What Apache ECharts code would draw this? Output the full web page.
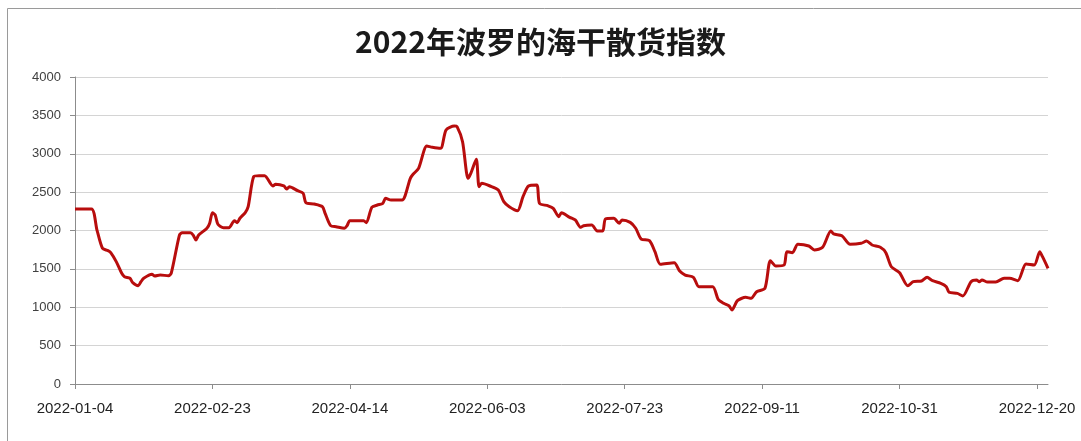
<!DOCTYPE html>
<html><head><meta charset="utf-8">
<script src="https://cdn.jsdelivr.net/npm/echarts@6/dist/echarts.min.js"></script>
<style>html,body{margin:0;padding:0;background:#fff}#c{width:1081px;height:441px}</style>
</head><body><div id="c"></div>
<script>
const titleText = '2022年波罗的海干散货指数';
const startDate = '2022-01-04';
const dayCount = 355;
const yTicks = [0, 500, 1000, 1500, 2000, 2500, 3000, 3500, 4000];
// day offsets from 2022-01-04
const dayOffsets = [
  0,6,8,10,12,13,15,17,18,20,21,23,24,25,28,29,31,34,35,38,
  39,42,43,44,45,48,49,50,51,52,54,56,58,59,60,62,63,65,67,69,
  72,73,76,77,78,81,83,84,87,90,91,93,95,98,99,100,105,106,108,110,
  112,113,115,119,122,123,125,128,130,133,135,138,139,141,143,144,146,147,148,151,
  154,156,158,161,163,165,168,169,172,174,176,177,180,182,184,185,188,190,192,193,
  196,198,199,202,204,206,209,211,213,218,220,222,225,227,232,234,236,238,239,241,
  244,246,248,251,253,255,258,259,261,263,267,269,272,275,276,279,282,286,288,290,
  293,295,297,300,303,305,308,310,312,315,317,318,321,323,326,328,329,330,332,335,
  338,340,343,346,349,351,352,354
];
const bdiValues = [
  2280,2280,2006,1768,1737,1711,1594,1442,1398,1377,1320,1281,1333,1377,1429,1407,1420,1411,1442,1941,
  1971,1971,1941,1876,1941,2029,2094,2232,2202,2081,2037,2037,2128,2102,2159,2237,2310,2701,2714,2714,
  2580,2602,2580,2541,2571,2519,2485,2362,2345,2310,2224,2063,2050,2029,2063,2128,2128,2102,2302,2332,
  2354,2419,2397,2397,2680,2732,2810,3101,3084,3071,3310,3362,3353,3157,2680,2745,2928,2571,2615,2580,
  2528,2376,2310,2258,2441,2580,2593,2354,2323,2289,2180,2232,2171,2137,2041,2063,2072,1994,1994,2150,
  2159,2094,2137,2106,2029,1889,1867,1724,1559,1580,1472,1420,1390,1268,1268,1103,1051,1016,964,1085,
  1129,1116,1203,1247,1607,1538,1551,1724,1711,1820,1798,1746,1781,1994,1955,1932,1820,1833,1863,1811,
  1781,1711,1528,1450,1281,1333,1342,1390,1346,1312,1268,1195,1181,1147,1333,1355,1333,1355,1329,1329,
  1377,1377,1346,1564,1551,1724,1659,1508
];

const categories = [];
const base = Date.UTC(2022, 0, 4);
for (let i = 0; i < dayCount; i++) {
  const d = new Date(base + i * 86400000);
  categories.push(d.getUTCFullYear() + '-' + String(d.getUTCMonth() + 1).padStart(2, '0') + '-' + String(d.getUTCDate()).padStart(2, '0'));
}
const seriesData = dayOffsets.map((d, i) => [d, bdiValues[i]]);

const chart = echarts.init(document.getElementById('c'), null, {renderer: 'canvas'});
chart.setOption({
  backgroundColor: '#ffffff',
  animation: false,
  title: {
    text: titleText, left: 'center', top: 22,
    textStyle: {fontFamily: 'Noto Sans CJK SC', fontSize: 30, fontWeight: 'bold', color: '#1a1a1a'}
  },
  graphic: [{
    type: 'rect', left: 5, top: 6, shape: {width: 1200, height: 600},
    style: {fill: 'none', stroke: '#9a9a9a', lineWidth: 1}, silent: true
  }],
  grid: {left: 75, right: 33, top: 77, bottom: 57},
  xAxis: {
    type: 'category', data: categories, boundaryGap: false,
    axisLine: {lineStyle: {color: '#8c8c8c', width: 1}},
    axisTick: {show: true, interval: 49, length: 5, lineStyle: {color: '#8c8c8c'}},
    axisLabel: {interval: 49, margin: 17, color: '#222222', fontSize: 15, fontFamily: 'Liberation Sans'},
    splitLine: {show: false}
  },
  yAxis: {
    type: 'value', min: yTicks[0], max: yTicks[yTicks.length - 1], interval: 500,
    axisLine: {show: true, lineStyle: {color: '#8c8c8c', width: 1}},
    axisTick: {show: true, length: 5, lineStyle: {color: '#8c8c8c'}},
    axisLabel: {margin: 14, color: '#404040', fontSize: 13, fontFamily: 'Liberation Sans',
      formatter: v => String(v)},
    splitLine: {lineStyle: {color: '#d4d4d4', width: 1}}
  },
  series: [{
    type: 'line', data: seriesData, smooth: 0.25, symbol: 'none',
    lineStyle: {color: '#b80d0d', width: 3}
  }]
});
</script></body></html>
